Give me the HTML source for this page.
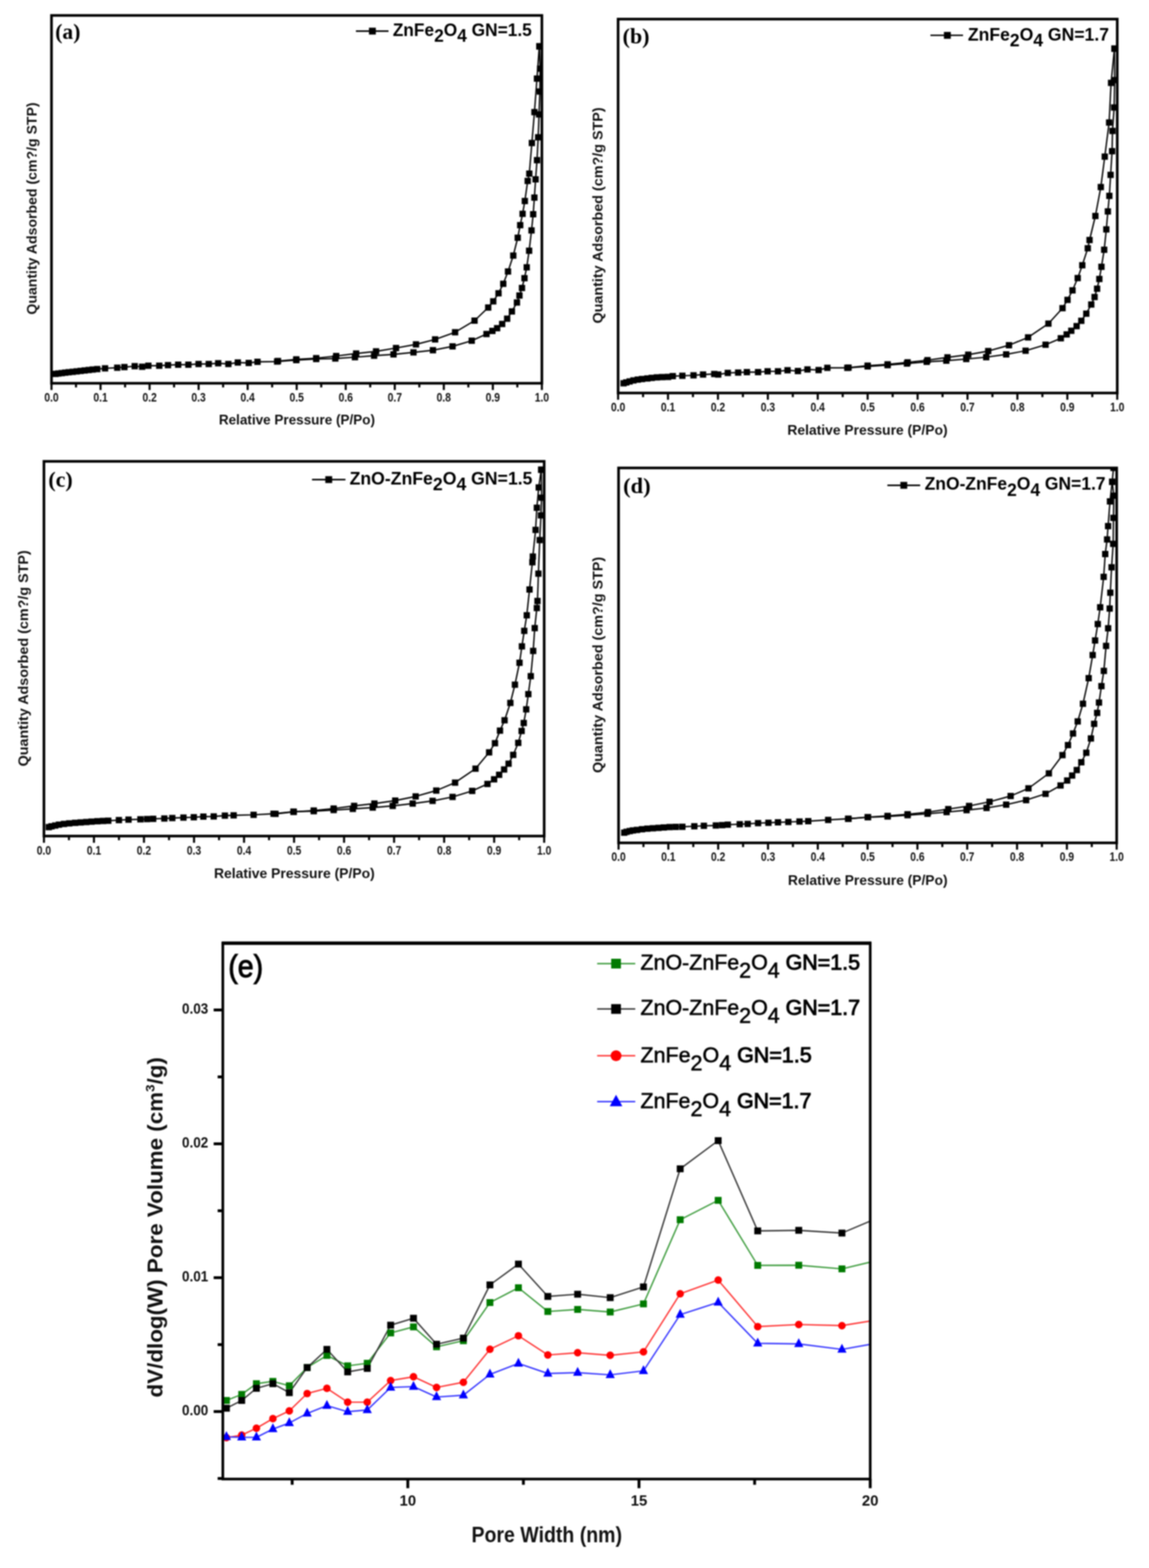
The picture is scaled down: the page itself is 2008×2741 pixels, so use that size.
<!DOCTYPE html>
<html lang="en"><head><meta charset="utf-8"><title>BET isotherms and pore size distribution</title>
<style>
html,body{margin:0;padding:0;background:#fff;}
body{width:2008px;height:2741px;overflow:hidden;}
svg{display:block;filter:blur(1px);}
</style></head>
<body>
<svg width="2008" height="2741" viewBox="0 0 2008 2741">
<rect width="2008" height="2741" fill="#fff"/>
<g id="panel-a">
<clipPath id="clip-a"><rect x="90" y="27" width="857" height="643"/></clipPath>
<g clip-path="url(#clip-a)">
<polyline fill="none" stroke="#000" stroke-width="2.4" stroke-linejoin="round" points="97,653.6 102,652.9 108,652.2 114,651.4 120,650.7 127,650 134,649.2 141,648.4 148,647.6 155,646.8 162,646 170,645.2 183.6,643.9 204.9,642.8 217.4,641.7 235.4,640.1 248.4,641.1 259.3,639.3 278.3,639.3 293.6,638.3 311.4,637.5 329.2,637.5 347,636.3 364.8,636.3 381.3,635 399.1,636.3 415.6,633.7 434.7,634.5 450,632.5 484.3,632 517.8,629.5 552.6,627.6 586,626.7 620.3,624.4 653.8,621.8 687.7,619.5 722.6,616 756.6,612.2 790.9,605.5 824.4,595.6 850.2,583.9 860.5,578.5 868.8,573.7 877.6,566.3 886.3,557.1 894.6,544.4 903.4,528.8 907.8,516.6 912.2,503.4 916.6,486.3 920.5,467.3 924.7,438.3 928.9,402.8 931.8,374.5 933.9,345.4 936,313.5 938.5,280 940.5,240 942,200 943.5,160 944,120 942.5,81"/>
<polyline fill="none" stroke="#000" stroke-width="2.4" stroke-linejoin="round" points="484.3,632 485.8,631.1 517.8,628.2 552.6,626.1 587.5,622.4 622.4,618 657.2,614.2 692.1,608.4 727,602 760.4,593.3 795.3,580.8 829.3,560.5 853.2,537.6 862,526.8 871.2,512.7 879.5,496.1 887.8,474.6 897,446.8 904.8,415.6 909.1,393.6 913.3,373.8 917.2,351.4 922.2,316.3 925,303.5 929.5,250 934,196 938.4,137.4 942.5,81"/>
<g fill="#000"><rect x="91.5" y="648.1" width="11" height="11"/><rect x="96.5" y="647.4" width="11" height="11"/><rect x="102.5" y="646.7" width="11" height="11"/><rect x="108.5" y="645.9" width="11" height="11"/><rect x="114.5" y="645.2" width="11" height="11"/><rect x="121.5" y="644.5" width="11" height="11"/><rect x="128.5" y="643.7" width="11" height="11"/><rect x="135.5" y="642.9" width="11" height="11"/><rect x="142.5" y="642.1" width="11" height="11"/><rect x="149.5" y="641.3" width="11" height="11"/><rect x="156.5" y="640.5" width="11" height="11"/><rect x="164.5" y="639.7" width="11" height="11"/><rect x="178.1" y="638.4" width="11" height="11"/><rect x="199.4" y="637.3" width="11" height="11"/><rect x="211.9" y="636.2" width="11" height="11"/><rect x="229.9" y="634.6" width="11" height="11"/><rect x="242.9" y="635.6" width="11" height="11"/><rect x="253.8" y="633.8" width="11" height="11"/><rect x="272.8" y="633.8" width="11" height="11"/><rect x="288.1" y="632.8" width="11" height="11"/><rect x="305.9" y="632" width="11" height="11"/><rect x="323.7" y="632" width="11" height="11"/><rect x="341.5" y="630.8" width="11" height="11"/><rect x="359.3" y="630.8" width="11" height="11"/><rect x="375.8" y="629.5" width="11" height="11"/><rect x="393.6" y="630.8" width="11" height="11"/><rect x="410.1" y="628.2" width="11" height="11"/><rect x="429.2" y="629" width="11" height="11"/><rect x="444.5" y="627" width="11" height="11"/><rect x="478.8" y="626.5" width="11" height="11"/><rect x="512.3" y="624" width="11" height="11"/><rect x="547.1" y="622.1" width="11" height="11"/><rect x="580.5" y="621.2" width="11" height="11"/><rect x="614.8" y="618.9" width="11" height="11"/><rect x="648.3" y="616.3" width="11" height="11"/><rect x="682.2" y="614" width="11" height="11"/><rect x="717.1" y="610.5" width="11" height="11"/><rect x="751.1" y="606.7" width="11" height="11"/><rect x="785.4" y="600" width="11" height="11"/><rect x="818.9" y="590.1" width="11" height="11"/><rect x="844.7" y="578.4" width="11" height="11"/><rect x="855" y="573" width="11" height="11"/><rect x="863.3" y="568.2" width="11" height="11"/><rect x="872.1" y="560.8" width="11" height="11"/><rect x="880.8" y="551.6" width="11" height="11"/><rect x="889.1" y="538.9" width="11" height="11"/><rect x="897.9" y="523.3" width="11" height="11"/><rect x="902.3" y="511.1" width="11" height="11"/><rect x="906.7" y="497.9" width="11" height="11"/><rect x="911.1" y="480.8" width="11" height="11"/><rect x="915" y="461.8" width="11" height="11"/><rect x="919.2" y="432.8" width="11" height="11"/><rect x="923.4" y="397.3" width="11" height="11"/><rect x="926.3" y="369" width="11" height="11"/><rect x="928.4" y="339.9" width="11" height="11"/><rect x="930.5" y="308" width="11" height="11"/><rect x="933" y="274.5" width="11" height="11"/><rect x="935" y="234.5" width="11" height="11"/><rect x="936.5" y="194.5" width="11" height="11"/><rect x="938" y="154.5" width="11" height="11"/><rect x="938.5" y="114.5" width="11" height="11"/><rect x="937" y="75.5" width="11" height="11"/><rect x="480.3" y="625.6" width="11" height="11"/><rect x="512.3" y="622.7" width="11" height="11"/><rect x="547.1" y="620.6" width="11" height="11"/><rect x="582" y="616.9" width="11" height="11"/><rect x="616.9" y="612.5" width="11" height="11"/><rect x="651.7" y="608.7" width="11" height="11"/><rect x="686.6" y="602.9" width="11" height="11"/><rect x="721.5" y="596.5" width="11" height="11"/><rect x="754.9" y="587.8" width="11" height="11"/><rect x="789.8" y="575.3" width="11" height="11"/><rect x="823.8" y="555" width="11" height="11"/><rect x="847.7" y="532.1" width="11" height="11"/><rect x="856.5" y="521.3" width="11" height="11"/><rect x="865.7" y="507.2" width="11" height="11"/><rect x="874" y="490.6" width="11" height="11"/><rect x="882.3" y="469.1" width="11" height="11"/><rect x="891.5" y="441.3" width="11" height="11"/><rect x="899.3" y="410.1" width="11" height="11"/><rect x="903.6" y="388.1" width="11" height="11"/><rect x="907.8" y="368.3" width="11" height="11"/><rect x="911.7" y="345.9" width="11" height="11"/><rect x="916.7" y="310.8" width="11" height="11"/><rect x="919.5" y="298" width="11" height="11"/><rect x="924" y="244.5" width="11" height="11"/><rect x="928.5" y="190.5" width="11" height="11"/><rect x="932.9" y="131.9" width="11" height="11"/><rect x="937" y="75.5" width="11" height="11"/></g>
</g>
<rect x="90" y="27" width="857" height="643" fill="none" stroke="#000" stroke-width="4.6"/>
<path d="M90 670V681.8M132.8 670V677.3M175.7 670V681.8M218.6 670V677.3M261.4 670V681.8M304.2 670V677.3M347.1 670V681.8M389.9 670V677.3M432.8 670V681.8M475.6 670V677.3M518.5 670V681.8M561.4 670V677.3M604.2 670V681.8M647 670V677.3M689.9 670V681.8M732.8 670V677.3M775.6 670V681.8M818.5 670V677.3M861.3 670V681.8M904.1 670V677.3M947 670V681.8" stroke="#000" stroke-width="3.6" fill="none"/>
<g font-family="'Liberation Sans', Arial, Helvetica, sans-serif" font-size="21.5" font-weight="bold" fill="#111"><text x="77.5" y="701.5" textLength="25" lengthAdjust="spacingAndGlyphs">0.0</text><text x="163.2" y="701.5" textLength="25" lengthAdjust="spacingAndGlyphs">0.1</text><text x="248.9" y="701.5" textLength="25" lengthAdjust="spacingAndGlyphs">0.2</text><text x="334.6" y="701.5" textLength="25" lengthAdjust="spacingAndGlyphs">0.3</text><text x="420.3" y="701.5" textLength="25" lengthAdjust="spacingAndGlyphs">0.4</text><text x="506" y="701.5" textLength="25" lengthAdjust="spacingAndGlyphs">0.5</text><text x="591.7" y="701.5" textLength="25" lengthAdjust="spacingAndGlyphs">0.6</text><text x="677.4" y="701.5" textLength="25" lengthAdjust="spacingAndGlyphs">0.7</text><text x="763.1" y="701.5" textLength="25" lengthAdjust="spacingAndGlyphs">0.8</text><text x="848.8" y="701.5" textLength="25" lengthAdjust="spacingAndGlyphs">0.9</text><text x="934.5" y="701.5" textLength="25" lengthAdjust="spacingAndGlyphs">1.0</text></g>
<text x="96.5" y="67.5" font-family="'Liberation Serif', 'Times New Roman', serif" font-size="37" font-weight="bold" textLength="44" lengthAdjust="spacingAndGlyphs">(a)</text>
<path d="M622 54.4H679" stroke="#000" stroke-width="2.6"/>
<rect x="644.8" y="48.4" width="12" height="12" fill="#000"/>
<g font-family="'Liberation Sans', Arial, Helvetica, sans-serif" fill="#000"><text x="686.4" y="62.8" font-size="31" font-weight="bold" textLength="243" lengthAdjust="spacingAndGlyphs">ZnFe<tspan dy="10.6">2</tspan><tspan dy="-10.6">O</tspan><tspan dy="10.6">4</tspan><tspan dy="-10.6"> GN=1.5</tspan></text></g>
<text transform="translate(64 364.5) rotate(-90)" text-anchor="middle" font-family="'Liberation Sans', Arial, Helvetica, sans-serif" font-size="24.3" font-weight="bold" fill="#111" textLength="371" lengthAdjust="spacingAndGlyphs">Quantity Adsorbed (cm?/g STP)</text>
<text x="518.9" y="741.8" text-anchor="middle" font-family="'Liberation Sans', Arial, Helvetica, sans-serif" font-size="24" font-weight="bold" fill="#111" textLength="273" lengthAdjust="spacingAndGlyphs">Relative Pressure (P/Po)</text>
</g>
<g id="panel-b">
<clipPath id="clip-b"><rect x="1080.2" y="33.4" width="872.3" height="653.6"/></clipPath>
<g clip-path="url(#clip-b)">
<polyline fill="none" stroke="#000" stroke-width="2.4" stroke-linejoin="round" points="1089.8,670 1094.5,668.5 1100.3,666.8 1107,665 1114.6,663.6 1122,662.6 1131.3,661.6 1139,660.6 1148,659.7 1157,659.2 1167.5,658.9 1175.8,657.5 1192.5,656.9 1212,656.1 1228.7,654.7 1248.2,653.8 1255.2,654.7 1271.9,651.9 1290,651.3 1305.3,650.5 1324.8,650.5 1341.5,649.1 1359.6,649.1 1376.3,647.2 1394.4,648.6 1411.1,645.8 1430.6,646.9 1445.9,643 1480.8,643 1516.3,640.5 1551.2,638.3 1585,635.5 1619.5,632.5 1653.8,630.5 1688.6,627.6 1723.5,624.4 1758.4,619.5 1792.3,613.1 1827.2,602.6 1853.9,591.3 1864.1,584.6 1872.2,578.2 1881.5,570.1 1889.7,560.8 1898.4,548.3 1907.1,532.3 1912.9,519.2 1917.3,504.7 1921.2,487.7 1924.9,466.4 1929.7,436.6 1933.4,401 1936.1,369.6 1938.7,342.4 1940.9,305.7 1943.5,264.3 1944.2,228.9 1947.1,187.9 1948,140 1947.6,85"/>
<polyline fill="none" stroke="#000" stroke-width="2.4" stroke-linejoin="round" points="1480.8,643 1482.9,642.7 1516.3,639.2 1551.2,636.9 1586.1,633.4 1620.9,629.6 1655.8,624.7 1692.1,620 1727,613.7 1763.3,603.5 1796.7,589.8 1832.2,565.7 1856.9,538.7 1865.6,524.2 1874.3,507.6 1883.4,486.1 1891.4,463.7 1901,434 1904.1,419.6 1914.3,377.6 1923.8,327 1930.7,273.8 1938.3,214.2 1941.7,144.9 1947.6,85"/>
<g fill="#000"><rect x="1084.3" y="664.5" width="11" height="11"/><rect x="1089" y="663" width="11" height="11"/><rect x="1094.8" y="661.3" width="11" height="11"/><rect x="1101.5" y="659.5" width="11" height="11"/><rect x="1109.1" y="658.1" width="11" height="11"/><rect x="1116.5" y="657.1" width="11" height="11"/><rect x="1125.8" y="656.1" width="11" height="11"/><rect x="1133.5" y="655.1" width="11" height="11"/><rect x="1142.5" y="654.2" width="11" height="11"/><rect x="1151.5" y="653.7" width="11" height="11"/><rect x="1162" y="653.4" width="11" height="11"/><rect x="1170.3" y="652" width="11" height="11"/><rect x="1187" y="651.4" width="11" height="11"/><rect x="1206.5" y="650.6" width="11" height="11"/><rect x="1223.2" y="649.2" width="11" height="11"/><rect x="1242.7" y="648.3" width="11" height="11"/><rect x="1249.7" y="649.2" width="11" height="11"/><rect x="1266.4" y="646.4" width="11" height="11"/><rect x="1284.5" y="645.8" width="11" height="11"/><rect x="1299.8" y="645" width="11" height="11"/><rect x="1319.3" y="645" width="11" height="11"/><rect x="1336" y="643.6" width="11" height="11"/><rect x="1354.1" y="643.6" width="11" height="11"/><rect x="1370.8" y="641.7" width="11" height="11"/><rect x="1388.9" y="643.1" width="11" height="11"/><rect x="1405.6" y="640.3" width="11" height="11"/><rect x="1425.1" y="641.4" width="11" height="11"/><rect x="1440.4" y="637.5" width="11" height="11"/><rect x="1475.3" y="637.5" width="11" height="11"/><rect x="1510.8" y="635" width="11" height="11"/><rect x="1545.7" y="632.8" width="11" height="11"/><rect x="1579.5" y="630" width="11" height="11"/><rect x="1614" y="627" width="11" height="11"/><rect x="1648.3" y="625" width="11" height="11"/><rect x="1683.1" y="622.1" width="11" height="11"/><rect x="1718" y="618.9" width="11" height="11"/><rect x="1752.9" y="614" width="11" height="11"/><rect x="1786.8" y="607.6" width="11" height="11"/><rect x="1821.7" y="597.1" width="11" height="11"/><rect x="1848.4" y="585.8" width="11" height="11"/><rect x="1858.6" y="579.1" width="11" height="11"/><rect x="1866.7" y="572.7" width="11" height="11"/><rect x="1876" y="564.6" width="11" height="11"/><rect x="1884.2" y="555.3" width="11" height="11"/><rect x="1892.9" y="542.8" width="11" height="11"/><rect x="1901.6" y="526.8" width="11" height="11"/><rect x="1907.4" y="513.7" width="11" height="11"/><rect x="1911.8" y="499.2" width="11" height="11"/><rect x="1915.7" y="482.2" width="11" height="11"/><rect x="1919.4" y="460.9" width="11" height="11"/><rect x="1924.2" y="431.1" width="11" height="11"/><rect x="1927.9" y="395.5" width="11" height="11"/><rect x="1930.6" y="364.1" width="11" height="11"/><rect x="1933.2" y="336.9" width="11" height="11"/><rect x="1935.4" y="300.2" width="11" height="11"/><rect x="1938" y="258.8" width="11" height="11"/><rect x="1938.7" y="223.4" width="11" height="11"/><rect x="1941.6" y="182.4" width="11" height="11"/><rect x="1942.5" y="134.5" width="11" height="11"/><rect x="1942.1" y="79.5" width="11" height="11"/><rect x="1477.4" y="637.2" width="11" height="11"/><rect x="1510.8" y="633.7" width="11" height="11"/><rect x="1545.7" y="631.4" width="11" height="11"/><rect x="1580.6" y="627.9" width="11" height="11"/><rect x="1615.4" y="624.1" width="11" height="11"/><rect x="1650.3" y="619.2" width="11" height="11"/><rect x="1686.6" y="614.5" width="11" height="11"/><rect x="1721.5" y="608.2" width="11" height="11"/><rect x="1757.8" y="598" width="11" height="11"/><rect x="1791.2" y="584.3" width="11" height="11"/><rect x="1826.7" y="560.2" width="11" height="11"/><rect x="1851.4" y="533.2" width="11" height="11"/><rect x="1860.1" y="518.7" width="11" height="11"/><rect x="1868.8" y="502.1" width="11" height="11"/><rect x="1877.9" y="480.6" width="11" height="11"/><rect x="1885.9" y="458.2" width="11" height="11"/><rect x="1895.5" y="428.5" width="11" height="11"/><rect x="1898.6" y="414.1" width="11" height="11"/><rect x="1908.8" y="372.1" width="11" height="11"/><rect x="1918.3" y="321.5" width="11" height="11"/><rect x="1925.2" y="268.3" width="11" height="11"/><rect x="1932.8" y="208.7" width="11" height="11"/><rect x="1936.2" y="139.4" width="11" height="11"/><rect x="1942.1" y="79.5" width="11" height="11"/></g>
</g>
<rect x="1080.2" y="33.4" width="872.3" height="653.6" fill="none" stroke="#000" stroke-width="4.6"/>
<path d="M1080.2 687V698.8M1123.8 687V694.3M1167.4 687V698.8M1211 687V694.3M1254.7 687V698.8M1298.3 687V694.3M1341.9 687V698.8M1385.5 687V694.3M1429.1 687V698.8M1472.7 687V694.3M1516.3 687V698.8M1560 687V694.3M1603.6 687V698.8M1647.2 687V694.3M1690.8 687V698.8M1734.4 687V694.3M1778 687V698.8M1821.7 687V694.3M1865.3 687V698.8M1908.9 687V694.3M1952.5 687V698.8" stroke="#000" stroke-width="3.6" fill="none"/>
<g font-family="'Liberation Sans', Arial, Helvetica, sans-serif" font-size="21.5" font-weight="bold" fill="#111"><text x="1067.7" y="719.2" textLength="25" lengthAdjust="spacingAndGlyphs">0.0</text><text x="1154.9" y="719.2" textLength="25" lengthAdjust="spacingAndGlyphs">0.1</text><text x="1242.2" y="719.2" textLength="25" lengthAdjust="spacingAndGlyphs">0.2</text><text x="1329.4" y="719.2" textLength="25" lengthAdjust="spacingAndGlyphs">0.3</text><text x="1416.6" y="719.2" textLength="25" lengthAdjust="spacingAndGlyphs">0.4</text><text x="1503.8" y="719.2" textLength="25" lengthAdjust="spacingAndGlyphs">0.5</text><text x="1591.1" y="719.2" textLength="25" lengthAdjust="spacingAndGlyphs">0.6</text><text x="1678.3" y="719.2" textLength="25" lengthAdjust="spacingAndGlyphs">0.7</text><text x="1765.5" y="719.2" textLength="25" lengthAdjust="spacingAndGlyphs">0.8</text><text x="1852.8" y="719.2" textLength="25" lengthAdjust="spacingAndGlyphs">0.9</text><text x="1940" y="719.2" textLength="25" lengthAdjust="spacingAndGlyphs">1.0</text></g>
<text x="1088.1" y="75.5" font-family="'Liberation Serif', 'Times New Roman', serif" font-size="37" font-weight="bold" textLength="47" lengthAdjust="spacingAndGlyphs">(b)</text>
<path d="M1626 61.8H1683" stroke="#000" stroke-width="2.6"/>
<rect x="1649.6" y="55.8" width="12" height="12" fill="#000"/>
<g font-family="'Liberation Sans', Arial, Helvetica, sans-serif" fill="#000"><text x="1691.5" y="70.8" font-size="31" font-weight="bold" textLength="246.5" lengthAdjust="spacingAndGlyphs">ZnFe<tspan dy="10.6">2</tspan><tspan dy="-10.6">O</tspan><tspan dy="10.6">4</tspan><tspan dy="-10.6"> GN=1.7</tspan></text></g>
<text transform="translate(1053 376.6) rotate(-90)" text-anchor="middle" font-family="'Liberation Sans', Arial, Helvetica, sans-serif" font-size="24.3" font-weight="bold" fill="#111" textLength="378" lengthAdjust="spacingAndGlyphs">Quantity Adsorbed (cm?/g STP)</text>
<text x="1516" y="760.3" text-anchor="middle" font-family="'Liberation Sans', Arial, Helvetica, sans-serif" font-size="24" font-weight="bold" fill="#111" textLength="280" lengthAdjust="spacingAndGlyphs">Relative Pressure (P/Po)</text>
</g>
<g id="panel-c">
<clipPath id="clip-c"><rect x="76.8" y="806.5" width="874.2" height="655"/></clipPath>
<g clip-path="url(#clip-c)">
<polyline fill="none" stroke="#000" stroke-width="2.4" stroke-linejoin="round" points="85.3,1445.9 90,1444.5 96.5,1443.1 103,1441.6 111.8,1440.3 121,1439.3 131.3,1438.4 141,1437.7 150.8,1437 160,1436.3 170.3,1435.6 180,1435.1 189.2,1434.7 207.8,1433.6 224.6,1432.8 245.4,1432.2 257,1431.8 267.7,1431.4 287.2,1430.8 301.1,1430 320.6,1429.2 338.7,1428.6 355.4,1427.5 373.5,1427.2 393,1425.8 408.3,1425.3 443.2,1424.4 478,1422.5 512.8,1418.9 548.3,1418 583.1,1416 616.6,1414 651.4,1411.7 686.3,1408.8 721.2,1404.7 756,1400 790.9,1393.1 825.2,1382.6 851.9,1370.4 863.5,1362.3 872.3,1354.4 881,1345.1 888.8,1335 896.9,1319.6 905.7,1298.6 911.6,1277.8 915.3,1263.9 919.6,1240 923.3,1213.4 927.6,1182 931.8,1137.9 934.5,1098 938.2,1062.9 939.3,1050.6 940.9,1002.8 943.2,944.1 945.4,900.9 946.5,870 945.9,821.1"/>
<polyline fill="none" stroke="#000" stroke-width="2.4" stroke-linejoin="round" points="478,1422.5 481.5,1422.7 513.4,1419.2 548.3,1416.9 583.1,1413.4 618.9,1408.8 654.3,1404.7 690.7,1399.5 726.4,1392.2 762.4,1382 795.3,1368.1 831,1343.7 854.8,1315.2 865,1299.2 873.8,1277.2 881.8,1259.1 891.9,1228.8 899.9,1196.9 907.9,1158.6 912.1,1129.9 916.2,1102.8 920.6,1075.6 925.4,1030.5 930.4,982.9 931.2,972.9 936,926.3 938.2,887.6 941.5,852.1 945.9,821.1"/>
<g fill="#000"><rect x="79.8" y="1440.4" width="11" height="11"/><rect x="84.5" y="1439" width="11" height="11"/><rect x="91" y="1437.6" width="11" height="11"/><rect x="97.5" y="1436.1" width="11" height="11"/><rect x="106.3" y="1434.8" width="11" height="11"/><rect x="115.5" y="1433.8" width="11" height="11"/><rect x="125.8" y="1432.9" width="11" height="11"/><rect x="135.5" y="1432.2" width="11" height="11"/><rect x="145.3" y="1431.5" width="11" height="11"/><rect x="154.5" y="1430.8" width="11" height="11"/><rect x="164.8" y="1430.1" width="11" height="11"/><rect x="174.5" y="1429.6" width="11" height="11"/><rect x="183.7" y="1429.2" width="11" height="11"/><rect x="202.3" y="1428.1" width="11" height="11"/><rect x="219.1" y="1427.3" width="11" height="11"/><rect x="239.9" y="1426.7" width="11" height="11"/><rect x="251.5" y="1426.3" width="11" height="11"/><rect x="262.2" y="1425.9" width="11" height="11"/><rect x="281.7" y="1425.3" width="11" height="11"/><rect x="295.6" y="1424.5" width="11" height="11"/><rect x="315.1" y="1423.7" width="11" height="11"/><rect x="333.2" y="1423.1" width="11" height="11"/><rect x="349.9" y="1422" width="11" height="11"/><rect x="368" y="1421.7" width="11" height="11"/><rect x="387.5" y="1420.3" width="11" height="11"/><rect x="402.8" y="1419.8" width="11" height="11"/><rect x="437.7" y="1418.9" width="11" height="11"/><rect x="472.5" y="1417" width="11" height="11"/><rect x="507.3" y="1413.4" width="11" height="11"/><rect x="542.8" y="1412.5" width="11" height="11"/><rect x="577.6" y="1410.5" width="11" height="11"/><rect x="611.1" y="1408.5" width="11" height="11"/><rect x="645.9" y="1406.2" width="11" height="11"/><rect x="680.8" y="1403.3" width="11" height="11"/><rect x="715.7" y="1399.2" width="11" height="11"/><rect x="750.5" y="1394.5" width="11" height="11"/><rect x="785.4" y="1387.6" width="11" height="11"/><rect x="819.7" y="1377.1" width="11" height="11"/><rect x="846.4" y="1364.9" width="11" height="11"/><rect x="858" y="1356.8" width="11" height="11"/><rect x="866.8" y="1348.9" width="11" height="11"/><rect x="875.5" y="1339.6" width="11" height="11"/><rect x="883.3" y="1329.5" width="11" height="11"/><rect x="891.4" y="1314.1" width="11" height="11"/><rect x="900.2" y="1293.1" width="11" height="11"/><rect x="906.1" y="1272.3" width="11" height="11"/><rect x="909.8" y="1258.4" width="11" height="11"/><rect x="914.1" y="1234.5" width="11" height="11"/><rect x="917.8" y="1207.9" width="11" height="11"/><rect x="922.1" y="1176.5" width="11" height="11"/><rect x="926.3" y="1132.4" width="11" height="11"/><rect x="929" y="1092.5" width="11" height="11"/><rect x="932.7" y="1057.4" width="11" height="11"/><rect x="933.8" y="1045.1" width="11" height="11"/><rect x="935.4" y="997.3" width="11" height="11"/><rect x="937.7" y="938.6" width="11" height="11"/><rect x="939.9" y="895.4" width="11" height="11"/><rect x="941" y="864.5" width="11" height="11"/><rect x="940.4" y="815.6" width="11" height="11"/><rect x="476" y="1417.2" width="11" height="11"/><rect x="507.9" y="1413.7" width="11" height="11"/><rect x="542.8" y="1411.4" width="11" height="11"/><rect x="577.6" y="1407.9" width="11" height="11"/><rect x="613.4" y="1403.3" width="11" height="11"/><rect x="648.8" y="1399.2" width="11" height="11"/><rect x="685.2" y="1394" width="11" height="11"/><rect x="720.9" y="1386.7" width="11" height="11"/><rect x="756.9" y="1376.5" width="11" height="11"/><rect x="789.8" y="1362.6" width="11" height="11"/><rect x="825.5" y="1338.2" width="11" height="11"/><rect x="849.3" y="1309.7" width="11" height="11"/><rect x="859.5" y="1293.7" width="11" height="11"/><rect x="868.3" y="1271.7" width="11" height="11"/><rect x="876.3" y="1253.6" width="11" height="11"/><rect x="886.4" y="1223.3" width="11" height="11"/><rect x="894.4" y="1191.4" width="11" height="11"/><rect x="902.4" y="1153.1" width="11" height="11"/><rect x="906.6" y="1124.4" width="11" height="11"/><rect x="910.7" y="1097.3" width="11" height="11"/><rect x="915.1" y="1070.1" width="11" height="11"/><rect x="919.9" y="1025" width="11" height="11"/><rect x="924.9" y="977.4" width="11" height="11"/><rect x="925.7" y="967.4" width="11" height="11"/><rect x="930.5" y="920.8" width="11" height="11"/><rect x="932.7" y="882.1" width="11" height="11"/><rect x="936" y="846.6" width="11" height="11"/><rect x="940.4" y="815.6" width="11" height="11"/></g>
</g>
<rect x="76.8" y="806.5" width="874.2" height="655" fill="none" stroke="#000" stroke-width="4.6"/>
<path d="M76.8 1461.5V1473.3M120.5 1461.5V1468.8M164.2 1461.5V1473.3M207.9 1461.5V1468.8M251.6 1461.5V1473.3M295.4 1461.5V1468.8M339.1 1461.5V1473.3M382.8 1461.5V1468.8M426.5 1461.5V1473.3M470.2 1461.5V1468.8M513.9 1461.5V1473.3M557.6 1461.5V1468.8M601.3 1461.5V1473.3M645 1461.5V1468.8M688.7 1461.5V1473.3M732.4 1461.5V1468.8M776.2 1461.5V1473.3M819.9 1461.5V1468.8M863.6 1461.5V1473.3M907.3 1461.5V1468.8M951 1461.5V1473.3" stroke="#000" stroke-width="3.6" fill="none"/>
<g font-family="'Liberation Sans', Arial, Helvetica, sans-serif" font-size="21.5" font-weight="bold" fill="#111"><text x="64.3" y="1493.5" textLength="25" lengthAdjust="spacingAndGlyphs">0.0</text><text x="151.7" y="1493.5" textLength="25" lengthAdjust="spacingAndGlyphs">0.1</text><text x="239.1" y="1493.5" textLength="25" lengthAdjust="spacingAndGlyphs">0.2</text><text x="326.6" y="1493.5" textLength="25" lengthAdjust="spacingAndGlyphs">0.3</text><text x="414" y="1493.5" textLength="25" lengthAdjust="spacingAndGlyphs">0.4</text><text x="501.4" y="1493.5" textLength="25" lengthAdjust="spacingAndGlyphs">0.5</text><text x="588.8" y="1493.5" textLength="25" lengthAdjust="spacingAndGlyphs">0.6</text><text x="676.2" y="1493.5" textLength="25" lengthAdjust="spacingAndGlyphs">0.7</text><text x="763.7" y="1493.5" textLength="25" lengthAdjust="spacingAndGlyphs">0.8</text><text x="851.1" y="1493.5" textLength="25" lengthAdjust="spacingAndGlyphs">0.9</text><text x="938.5" y="1493.5" textLength="25" lengthAdjust="spacingAndGlyphs">1.0</text></g>
<text x="84.5" y="850.5" font-family="'Liberation Serif', 'Times New Roman', serif" font-size="37" font-weight="bold" textLength="42.6" lengthAdjust="spacingAndGlyphs">(c)</text>
<path d="M545.3 838.4H603.7" stroke="#000" stroke-width="2.6"/>
<rect x="568.5" y="832.4" width="12" height="12" fill="#000"/>
<g font-family="'Liberation Sans', Arial, Helvetica, sans-serif" fill="#000"><text x="610.9" y="846.8" font-size="31" font-weight="bold" textLength="319.6" lengthAdjust="spacingAndGlyphs">ZnO-ZnFe<tspan dy="10.6">2</tspan><tspan dy="-10.6">O</tspan><tspan dy="10.6">4</tspan><tspan dy="-10.6"> GN=1.5</tspan></text></g>
<text transform="translate(48.5 1150.8) rotate(-90)" text-anchor="middle" font-family="'Liberation Sans', Arial, Helvetica, sans-serif" font-size="24.3" font-weight="bold" fill="#111" textLength="378" lengthAdjust="spacingAndGlyphs">Quantity Adsorbed (cm?/g STP)</text>
<text x="514.4" y="1534.7" text-anchor="middle" font-family="'Liberation Sans', Arial, Helvetica, sans-serif" font-size="24" font-weight="bold" fill="#111" textLength="281" lengthAdjust="spacingAndGlyphs">Relative Pressure (P/Po)</text>
</g>
<g id="panel-d">
<clipPath id="clip-d"><rect x="1081" y="818" width="870.5" height="655.4"/></clipPath>
<g clip-path="url(#clip-d)">
<polyline fill="none" stroke="#000" stroke-width="2.4" stroke-linejoin="round" points="1090.9,1455.6 1095,1454.1 1100.6,1452.8 1106,1451.7 1113.2,1450.8 1122,1449.6 1131.3,1448.6 1141,1447.9 1150.8,1447.2 1160,1446.5 1170.3,1445.8 1181,1445.5 1192.5,1445.3 1213.4,1444.4 1230.1,1443.6 1251,1443 1262,1442.4 1271.9,1441.6 1292.8,1440.8 1306.7,1440.3 1324.8,1438.9 1342.9,1438.3 1359.6,1437.5 1377.7,1436.9 1397.2,1436.1 1412.5,1435.5 1447.3,1433.3 1482.1,1431.3 1517,1428.6 1551.2,1427.2 1586.1,1425 1620.9,1422.5 1654.3,1419.6 1689.2,1416.2 1724.1,1412.4 1758.4,1406.6 1793.2,1398.7 1827.2,1387.7 1853.4,1373.1 1865,1364.4 1873.7,1355.7 1881.8,1346.1 1889.7,1332.5 1898.4,1315.9 1906.5,1290.9 1912.1,1265.3 1917.4,1246.2 1920.6,1228.1 1924.9,1199.4 1929.1,1172.8 1933,1129.1 1936.6,1098.3 1939.3,1063.8 1940.4,1036.1 1942.6,991.7 1945.4,950.7 1945.9,905.3 1946.5,866.5 1943.7,842.2"/>
<polyline fill="none" stroke="#000" stroke-width="2.4" stroke-linejoin="round" points="1482.1,1431.3 1482.9,1431.3 1516.3,1428.4 1551.2,1426.3 1586.1,1423.4 1621.8,1419.6 1657.2,1414.4 1693.6,1408.9 1729.3,1401.6 1766.2,1391.5 1797.3,1378.1 1833,1351.9 1856.8,1320 1866.4,1302.5 1875.2,1282.2 1883.4,1261.1 1892.6,1230.2 1902.6,1185.5 1909.6,1145.1 1913.8,1119.6 1918.5,1090.9 1922.7,1061.6 1928.8,1008.4 1931.5,968.5 1934.8,943 1936.5,919.7 1939.8,876.5 1943.7,842.2 1946,818"/>
<g fill="#000"><rect x="1085.4" y="1450.1" width="11" height="11"/><rect x="1089.5" y="1448.6" width="11" height="11"/><rect x="1095.1" y="1447.3" width="11" height="11"/><rect x="1100.5" y="1446.2" width="11" height="11"/><rect x="1107.7" y="1445.3" width="11" height="11"/><rect x="1116.5" y="1444.1" width="11" height="11"/><rect x="1125.8" y="1443.1" width="11" height="11"/><rect x="1135.5" y="1442.4" width="11" height="11"/><rect x="1145.3" y="1441.7" width="11" height="11"/><rect x="1154.5" y="1441" width="11" height="11"/><rect x="1164.8" y="1440.3" width="11" height="11"/><rect x="1175.5" y="1440" width="11" height="11"/><rect x="1187" y="1439.8" width="11" height="11"/><rect x="1207.9" y="1438.9" width="11" height="11"/><rect x="1224.6" y="1438.1" width="11" height="11"/><rect x="1245.5" y="1437.5" width="11" height="11"/><rect x="1256.5" y="1436.9" width="11" height="11"/><rect x="1266.4" y="1436.1" width="11" height="11"/><rect x="1287.3" y="1435.3" width="11" height="11"/><rect x="1301.2" y="1434.8" width="11" height="11"/><rect x="1319.3" y="1433.4" width="11" height="11"/><rect x="1337.4" y="1432.8" width="11" height="11"/><rect x="1354.1" y="1432" width="11" height="11"/><rect x="1372.2" y="1431.4" width="11" height="11"/><rect x="1391.7" y="1430.6" width="11" height="11"/><rect x="1407" y="1430" width="11" height="11"/><rect x="1441.8" y="1427.8" width="11" height="11"/><rect x="1476.6" y="1425.8" width="11" height="11"/><rect x="1511.5" y="1423.1" width="11" height="11"/><rect x="1545.7" y="1421.7" width="11" height="11"/><rect x="1580.6" y="1419.5" width="11" height="11"/><rect x="1615.4" y="1417" width="11" height="11"/><rect x="1648.8" y="1414.1" width="11" height="11"/><rect x="1683.7" y="1410.7" width="11" height="11"/><rect x="1718.6" y="1406.9" width="11" height="11"/><rect x="1752.9" y="1401.1" width="11" height="11"/><rect x="1787.7" y="1393.2" width="11" height="11"/><rect x="1821.7" y="1382.2" width="11" height="11"/><rect x="1847.9" y="1367.6" width="11" height="11"/><rect x="1859.5" y="1358.9" width="11" height="11"/><rect x="1868.2" y="1350.2" width="11" height="11"/><rect x="1876.3" y="1340.6" width="11" height="11"/><rect x="1884.2" y="1327" width="11" height="11"/><rect x="1892.9" y="1310.4" width="11" height="11"/><rect x="1901" y="1285.4" width="11" height="11"/><rect x="1906.6" y="1259.8" width="11" height="11"/><rect x="1911.9" y="1240.7" width="11" height="11"/><rect x="1915.1" y="1222.6" width="11" height="11"/><rect x="1919.4" y="1193.9" width="11" height="11"/><rect x="1923.6" y="1167.3" width="11" height="11"/><rect x="1927.5" y="1123.6" width="11" height="11"/><rect x="1931.1" y="1092.8" width="11" height="11"/><rect x="1933.8" y="1058.3" width="11" height="11"/><rect x="1934.9" y="1030.6" width="11" height="11"/><rect x="1937.1" y="986.2" width="11" height="11"/><rect x="1939.9" y="945.2" width="11" height="11"/><rect x="1940.4" y="899.8" width="11" height="11"/><rect x="1941" y="861" width="11" height="11"/><rect x="1938.2" y="836.7" width="11" height="11"/><rect x="1477.4" y="1425.8" width="11" height="11"/><rect x="1510.8" y="1422.9" width="11" height="11"/><rect x="1545.7" y="1420.8" width="11" height="11"/><rect x="1580.6" y="1417.9" width="11" height="11"/><rect x="1616.3" y="1414.1" width="11" height="11"/><rect x="1651.7" y="1408.9" width="11" height="11"/><rect x="1688.1" y="1403.4" width="11" height="11"/><rect x="1723.8" y="1396.1" width="11" height="11"/><rect x="1760.7" y="1386" width="11" height="11"/><rect x="1791.8" y="1372.6" width="11" height="11"/><rect x="1827.5" y="1346.4" width="11" height="11"/><rect x="1851.3" y="1314.5" width="11" height="11"/><rect x="1860.9" y="1297" width="11" height="11"/><rect x="1869.7" y="1276.7" width="11" height="11"/><rect x="1877.9" y="1255.6" width="11" height="11"/><rect x="1887.1" y="1224.7" width="11" height="11"/><rect x="1897.1" y="1180" width="11" height="11"/><rect x="1904.1" y="1139.6" width="11" height="11"/><rect x="1908.3" y="1114.1" width="11" height="11"/><rect x="1913" y="1085.4" width="11" height="11"/><rect x="1917.2" y="1056.1" width="11" height="11"/><rect x="1923.3" y="1002.9" width="11" height="11"/><rect x="1926" y="963" width="11" height="11"/><rect x="1929.3" y="937.5" width="11" height="11"/><rect x="1931" y="914.2" width="11" height="11"/><rect x="1934.3" y="871" width="11" height="11"/><rect x="1938.2" y="836.7" width="11" height="11"/><rect x="1940.5" y="812.5" width="11" height="11"/></g>
</g>
<rect x="1081" y="818" width="870.5" height="655.4" fill="none" stroke="#000" stroke-width="4.6"/>
<path d="M1081 1473.4V1485.2M1124.5 1473.4V1480.7M1168 1473.4V1485.2M1211.6 1473.4V1480.7M1255.1 1473.4V1485.2M1298.6 1473.4V1480.7M1342.2 1473.4V1485.2M1385.7 1473.4V1480.7M1429.2 1473.4V1485.2M1472.7 1473.4V1480.7M1516.2 1473.4V1485.2M1559.8 1473.4V1480.7M1603.3 1473.4V1485.2M1646.8 1473.4V1480.7M1690.3 1473.4V1485.2M1733.9 1473.4V1480.7M1777.4 1473.4V1485.2M1820.9 1473.4V1480.7M1864.5 1473.4V1485.2M1908 1473.4V1480.7M1951.5 1473.4V1485.2" stroke="#000" stroke-width="3.6" fill="none"/>
<g font-family="'Liberation Sans', Arial, Helvetica, sans-serif" font-size="21.5" font-weight="bold" fill="#111"><text x="1068.5" y="1505.4" textLength="25" lengthAdjust="spacingAndGlyphs">0.0</text><text x="1155.5" y="1505.4" textLength="25" lengthAdjust="spacingAndGlyphs">0.1</text><text x="1242.6" y="1505.4" textLength="25" lengthAdjust="spacingAndGlyphs">0.2</text><text x="1329.7" y="1505.4" textLength="25" lengthAdjust="spacingAndGlyphs">0.3</text><text x="1416.7" y="1505.4" textLength="25" lengthAdjust="spacingAndGlyphs">0.4</text><text x="1503.8" y="1505.4" textLength="25" lengthAdjust="spacingAndGlyphs">0.5</text><text x="1590.8" y="1505.4" textLength="25" lengthAdjust="spacingAndGlyphs">0.6</text><text x="1677.8" y="1505.4" textLength="25" lengthAdjust="spacingAndGlyphs">0.7</text><text x="1764.9" y="1505.4" textLength="25" lengthAdjust="spacingAndGlyphs">0.8</text><text x="1852" y="1505.4" textLength="25" lengthAdjust="spacingAndGlyphs">0.9</text><text x="1939" y="1505.4" textLength="25" lengthAdjust="spacingAndGlyphs">1.0</text></g>
<text x="1089" y="861.5" font-family="'Liberation Serif', 'Times New Roman', serif" font-size="37" font-weight="bold" textLength="48" lengthAdjust="spacingAndGlyphs">(d)</text>
<path d="M1550.8 848.4H1608.1" stroke="#000" stroke-width="2.6"/>
<rect x="1573.5" y="842.4" width="12" height="12" fill="#000"/>
<g font-family="'Liberation Sans', Arial, Helvetica, sans-serif" fill="#000"><text x="1615.9" y="856.2" font-size="31" font-weight="bold" textLength="316.2" lengthAdjust="spacingAndGlyphs">ZnO-ZnFe<tspan dy="10.6">2</tspan><tspan dy="-10.6">O</tspan><tspan dy="10.6">4</tspan><tspan dy="-10.6"> GN=1.7</tspan></text></g>
<text transform="translate(1052.5 1162.3) rotate(-90)" text-anchor="middle" font-family="'Liberation Sans', Arial, Helvetica, sans-serif" font-size="24.3" font-weight="bold" fill="#111" textLength="378" lengthAdjust="spacingAndGlyphs">Quantity Adsorbed (cm?/g STP)</text>
<text x="1516.5" y="1546.9" text-anchor="middle" font-family="'Liberation Sans', Arial, Helvetica, sans-serif" font-size="24" font-weight="bold" fill="#111" textLength="279" lengthAdjust="spacingAndGlyphs">Relative Pressure (P/Po)</text>
</g>
<g id="panel-e">
<clipPath id="clip-e"><rect x="389.4" y="1648.8" width="1131.4" height="936.7"/></clipPath>
<g clip-path="url(#clip-e)">
<polyline fill="none" stroke="#3a9a3a" stroke-width="2.4" stroke-linejoin="round" points="395.7,2448.1 422.4,2437.5 448.1,2418.8 476.9,2414.8 505.6,2422.4 536.8,2390.6 571.3,2369.4 607.6,2387.6 641.8,2383.1 682.7,2330.1 722.6,2319.5 762.9,2354.3 809.8,2343.7 856.2,2277 906,2251.1 957.4,2292.6 1009.5,2289 1066.4,2293.5 1124.5,2279.3 1188.7,2132.2 1255.1,2098.3 1324.2,2212 1395.9,2211.7 1471.4,2218.1 1560,2197"/>
<polyline fill="none" stroke="#333" stroke-width="2.4" stroke-linejoin="round" points="395.7,2461.7 422.4,2448.1 448.1,2426.9 476.9,2418.8 505.6,2434.5 536.8,2390.6 571.3,2358.8 607.6,2398.2 641.8,2392.1 682.7,2316.5 722.6,2304.4 762.9,2349.8 809.8,2339.2 856.2,2246.1 906,2209.7 957.4,2266.3 1009.5,2262.4 1066.4,2268.4 1124.5,2249.6 1188.7,2043.2 1255.1,1993.9 1324.2,2151.7 1395.9,2150.7 1471.4,2155.5 1560,2118"/>
<polyline fill="none" stroke="#ff3333" stroke-width="2.4" stroke-linejoin="round" points="395.7,2513.2 422.4,2508.7 448.1,2496.6 476.9,2479.9 505.6,2466.3 536.8,2436 571.3,2426.9 607.6,2451.1 641.8,2451.1 682.7,2413.3 722.6,2406.7 762.9,2425.4 809.8,2416.3 856.2,2358.7 906,2335 957.4,2368.6 1009.5,2364.7 1066.4,2369.2 1124.5,2363.1 1188.7,2261.7 1255.1,2237.7 1324.2,2319 1395.9,2315.4 1471.4,2317.3 1560,2303"/>
<polyline fill="none" stroke="#3333ff" stroke-width="2.4" stroke-linejoin="round" points="395.7,2511.7 422.4,2512.6 448.1,2512.6 476.9,2498.1 505.6,2487.5 536.8,2470.8 571.3,2457.2 607.6,2467.8 641.8,2464.8 682.7,2425.4 722.6,2423.9 762.9,2442.1 809.8,2439 856.2,2402.6 906,2383.4 957.4,2401 1009.5,2399.5 1066.4,2403.4 1124.5,2396.4 1188.7,2298.1 1255.1,2276.7 1324.2,2348.3 1395.9,2349.3 1471.4,2358.9 1560,2343"/>
<g fill="#007a00"><rect x="389.7" y="2442.1" width="12" height="12"/><rect x="416.4" y="2431.5" width="12" height="12"/><rect x="442.1" y="2412.8" width="12" height="12"/><rect x="470.9" y="2408.8" width="12" height="12"/><rect x="499.6" y="2416.4" width="12" height="12"/><rect x="530.8" y="2384.6" width="12" height="12"/><rect x="565.3" y="2363.4" width="12" height="12"/><rect x="601.6" y="2381.6" width="12" height="12"/><rect x="635.8" y="2377.1" width="12" height="12"/><rect x="676.7" y="2324.1" width="12" height="12"/><rect x="716.6" y="2313.5" width="12" height="12"/><rect x="756.9" y="2348.3" width="12" height="12"/><rect x="803.8" y="2337.7" width="12" height="12"/><rect x="850.2" y="2271" width="12" height="12"/><rect x="900" y="2245.1" width="12" height="12"/><rect x="951.4" y="2286.6" width="12" height="12"/><rect x="1003.5" y="2283" width="12" height="12"/><rect x="1060.4" y="2287.5" width="12" height="12"/><rect x="1118.5" y="2273.3" width="12" height="12"/><rect x="1182.7" y="2126.2" width="12" height="12"/><rect x="1249.1" y="2092.3" width="12" height="12"/><rect x="1318.2" y="2206" width="12" height="12"/><rect x="1389.9" y="2205.7" width="12" height="12"/><rect x="1465.4" y="2212.1" width="12" height="12"/></g>
<g fill="#000"><rect x="389.7" y="2455.7" width="12" height="12"/><rect x="416.4" y="2442.1" width="12" height="12"/><rect x="442.1" y="2420.9" width="12" height="12"/><rect x="470.9" y="2412.8" width="12" height="12"/><rect x="499.6" y="2428.5" width="12" height="12"/><rect x="530.8" y="2384.6" width="12" height="12"/><rect x="565.3" y="2352.8" width="12" height="12"/><rect x="601.6" y="2392.2" width="12" height="12"/><rect x="635.8" y="2386.1" width="12" height="12"/><rect x="676.7" y="2310.5" width="12" height="12"/><rect x="716.6" y="2298.4" width="12" height="12"/><rect x="756.9" y="2343.8" width="12" height="12"/><rect x="803.8" y="2333.2" width="12" height="12"/><rect x="850.2" y="2240.1" width="12" height="12"/><rect x="900" y="2203.7" width="12" height="12"/><rect x="951.4" y="2260.3" width="12" height="12"/><rect x="1003.5" y="2256.4" width="12" height="12"/><rect x="1060.4" y="2262.4" width="12" height="12"/><rect x="1118.5" y="2243.6" width="12" height="12"/><rect x="1182.7" y="2037.2" width="12" height="12"/><rect x="1249.1" y="1987.9" width="12" height="12"/><rect x="1318.2" y="2145.7" width="12" height="12"/><rect x="1389.9" y="2144.7" width="12" height="12"/><rect x="1465.4" y="2149.5" width="12" height="12"/></g>
<g fill="#ff0000"><circle cx="395.7" cy="2513.2" r="6.6"/><circle cx="422.4" cy="2508.7" r="6.6"/><circle cx="448.1" cy="2496.6" r="6.6"/><circle cx="476.9" cy="2479.9" r="6.6"/><circle cx="505.6" cy="2466.3" r="6.6"/><circle cx="536.8" cy="2436" r="6.6"/><circle cx="571.3" cy="2426.9" r="6.6"/><circle cx="607.6" cy="2451.1" r="6.6"/><circle cx="641.8" cy="2451.1" r="6.6"/><circle cx="682.7" cy="2413.3" r="6.6"/><circle cx="722.6" cy="2406.7" r="6.6"/><circle cx="762.9" cy="2425.4" r="6.6"/><circle cx="809.8" cy="2416.3" r="6.6"/><circle cx="856.2" cy="2358.7" r="6.6"/><circle cx="906" cy="2335" r="6.6"/><circle cx="957.4" cy="2368.6" r="6.6"/><circle cx="1009.5" cy="2364.7" r="6.6"/><circle cx="1066.4" cy="2369.2" r="6.6"/><circle cx="1124.5" cy="2363.1" r="6.6"/><circle cx="1188.7" cy="2261.7" r="6.6"/><circle cx="1255.1" cy="2237.7" r="6.6"/><circle cx="1324.2" cy="2319" r="6.6"/><circle cx="1395.9" cy="2315.4" r="6.6"/><circle cx="1471.4" cy="2317.3" r="6.6"/></g>
<g fill="#0000ff"><path d="M395.7 2501.7L403.7 2517.2L387.7 2517.2Z"/><path d="M422.4 2502.6L430.4 2518.1L414.4 2518.1Z"/><path d="M448.1 2502.6L456.1 2518.1L440.1 2518.1Z"/><path d="M476.9 2488.1L484.9 2503.6L468.9 2503.6Z"/><path d="M505.6 2477.5L513.6 2493L497.6 2493Z"/><path d="M536.8 2460.8L544.8 2476.3L528.8 2476.3Z"/><path d="M571.3 2447.2L579.3 2462.7L563.3 2462.7Z"/><path d="M607.6 2457.8L615.6 2473.3L599.6 2473.3Z"/><path d="M641.8 2454.8L649.8 2470.3L633.8 2470.3Z"/><path d="M682.7 2415.4L690.7 2430.9L674.7 2430.9Z"/><path d="M722.6 2413.9L730.6 2429.4L714.6 2429.4Z"/><path d="M762.9 2432.1L770.9 2447.6L754.9 2447.6Z"/><path d="M809.8 2429L817.8 2444.5L801.8 2444.5Z"/><path d="M856.2 2392.6L864.2 2408.1L848.2 2408.1Z"/><path d="M906 2373.4L914 2388.9L898 2388.9Z"/><path d="M957.4 2391L965.4 2406.5L949.4 2406.5Z"/><path d="M1009.5 2389.5L1017.5 2405L1001.5 2405Z"/><path d="M1066.4 2393.4L1074.4 2408.9L1058.4 2408.9Z"/><path d="M1124.5 2386.4L1132.5 2401.9L1116.5 2401.9Z"/><path d="M1188.7 2288.1L1196.7 2303.6L1180.7 2303.6Z"/><path d="M1255.1 2266.7L1263.1 2282.2L1247.1 2282.2Z"/><path d="M1324.2 2338.3L1332.2 2353.8L1316.2 2353.8Z"/><path d="M1395.9 2339.3L1403.9 2354.8L1387.9 2354.8Z"/><path d="M1471.4 2348.9L1479.4 2364.4L1463.4 2364.4Z"/></g>
</g>
<rect x="389.4" y="1648.8" width="1131.4" height="936.7" fill="none" stroke="#000" stroke-width="4.6"/>
<path d="M387.4 1648.8H1522.8" stroke="#000" stroke-width="6"/>
<path d="M510.6 2585.5V2595.5M712.7 2585.5V2601.5M914.7 2585.5V2595.5M1116.7 2585.5V2601.5M1318.8 2585.5V2595.5M1520.8 2585.5V2601.5M389.4 2584.6H380.4M389.4 2467.6H373.4M389.4 2350.6H380.4M389.4 2233.6H373.4M389.4 2116.6H380.4M389.4 1999.6H373.4M389.4 1882.6H380.4M389.4 1765.6H373.4" stroke="#000" stroke-width="5" fill="none"/>
<g font-family="'Liberation Sans', Arial, Helvetica, sans-serif" font-size="25" font-weight="bold" fill="#111"><text x="712.7" y="2631.5" text-anchor="middle" font-size="26">10</text><text x="1116.7" y="2631.5" text-anchor="middle" font-size="26">15</text><text x="1520.8" y="2631.5" text-anchor="middle" font-size="26">20</text><text x="364" y="2474.1" text-anchor="end" font-size="26.5" textLength="46" lengthAdjust="spacingAndGlyphs">0.00</text><text x="364" y="2240.1" text-anchor="end" font-size="26.5" textLength="46" lengthAdjust="spacingAndGlyphs">0.01</text><text x="364" y="2006.1" text-anchor="end" font-size="26.5" textLength="46" lengthAdjust="spacingAndGlyphs">0.02</text><text x="364" y="1772.1" text-anchor="end" font-size="26.5" textLength="46" lengthAdjust="spacingAndGlyphs">0.03</text></g>
<text x="399" y="1708" font-family="'Liberation Sans', Arial, Helvetica, sans-serif" font-size="55" stroke="#000" stroke-width="1.6" textLength="61" lengthAdjust="spacingAndGlyphs">(e)</text>
<text x="955.5" y="2695.6" text-anchor="middle" font-family="'Liberation Sans', Arial, Helvetica, sans-serif" font-size="38" font-weight="bold" fill="#111" textLength="263" lengthAdjust="spacingAndGlyphs">Pore Width (nm)</text>
<text transform="translate(283.5 2145.5) rotate(-90)" text-anchor="middle" font-family="'Liberation Sans', Arial, Helvetica, sans-serif" font-size="37" font-weight="bold" fill="#111" textLength="595" lengthAdjust="spacingAndGlyphs">dV/dlog(W) Pore Volume (cm<tspan dy="-14" font-size="22">3</tspan><tspan dy="14">/g)</tspan></text>
<path d="M1043.6 1684.5H1110.2" stroke="#3a9a3a" stroke-width="2.4"/>
<rect x="1068.1" y="1676" width="17" height="17" fill="#007a00"/>
<g font-family="'Liberation Sans', Arial, Helvetica, sans-serif" fill="#000" stroke="#000" stroke-width="0.9"><text x="1119.3" y="1695" font-size="37" font-weight="normal" textLength="383.7" lengthAdjust="spacingAndGlyphs">ZnO-ZnFe<tspan dy="13.5">2</tspan><tspan dy="-13.5">O</tspan><tspan dy="13.5">4</tspan><tspan dy="-13.5" stroke-width="1.5"> GN=1.5</tspan></text></g>
<path d="M1043.6 1763.8H1110.2" stroke="#333" stroke-width="2.4"/>
<rect x="1068.1" y="1755.3" width="17" height="17" fill="#000"/>
<g font-family="'Liberation Sans', Arial, Helvetica, sans-serif" fill="#000" stroke="#000" stroke-width="0.9"><text x="1119.3" y="1774" font-size="37" font-weight="normal" textLength="383.7" lengthAdjust="spacingAndGlyphs">ZnO-ZnFe<tspan dy="13.5">2</tspan><tspan dy="-13.5">O</tspan><tspan dy="13.5">4</tspan><tspan dy="-13.5" stroke-width="1.5"> GN=1.7</tspan></text></g>
<path d="M1043.6 1845.5H1110.2" stroke="#ff3333" stroke-width="2.4"/>
<circle cx="1076.6" cy="1845.5" r="9.5" fill="#ff0000"/>
<g font-family="'Liberation Sans', Arial, Helvetica, sans-serif" fill="#000" stroke="#000" stroke-width="0.9"><text x="1119.3" y="1857.3" font-size="37" font-weight="normal" textLength="299.2" lengthAdjust="spacingAndGlyphs">ZnFe<tspan dy="13.5">2</tspan><tspan dy="-13.5">O</tspan><tspan dy="13.5">4</tspan><tspan dy="-13.5" stroke-width="1.5"> GN=1.5</tspan></text></g>
<path d="M1043.6 1925.7H1110.2" stroke="#3333ff" stroke-width="2.4"/>
<path d="M1076.6 1913.7L1087.6 1933.7L1065.6 1933.7Z" fill="#0000ff"/>
<g font-family="'Liberation Sans', Arial, Helvetica, sans-serif" fill="#000" stroke="#000" stroke-width="0.9"><text x="1119.3" y="1937" font-size="37" font-weight="normal" textLength="298.7" lengthAdjust="spacingAndGlyphs">ZnFe<tspan dy="13.5">2</tspan><tspan dy="-13.5">O</tspan><tspan dy="13.5">4</tspan><tspan dy="-13.5" stroke-width="1.5"> GN=1.7</tspan></text></g>
</g>
</svg>
</body></html>
